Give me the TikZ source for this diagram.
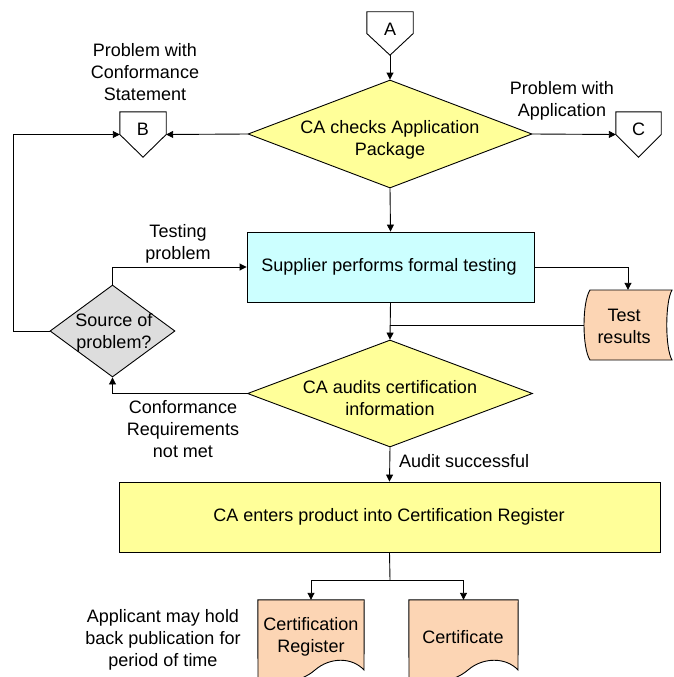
\documentclass[tikz,border=0pt]{standalone}
\usepackage{fontspec}
\setmainfont{Liberation Sans}
\usetikzlibrary{shapes.geometric,arrows.meta,calc}
\definecolor{ylw}{RGB}{255,255,153}
\definecolor{cyn}{RGB}{204,255,255}
\definecolor{gry}{RGB}{221,221,221}
\definecolor{pch}{RGB}{252,213,180}
\tikzset{
  line/.style={draw=black, line width=0.9pt},
  arr/.style={line, -{Triangle[length=7pt,width=7pt]}},
  dia/.style={shape=diamond, draw, line width=0.9pt, inner sep=0pt},
  proc/.style={rectangle, draw, line width=0.9pt, inner sep=0pt},
  txt/.style={align=center, inner sep=0pt},
  conn/.style={rectangle, inner sep=0pt, minimum width=46pt, minimum height=45pt},
  holder/.style={rectangle, inner sep=0pt},
  shapeline/.style={draw, line width=0.9pt, line join=miter},
}
\begin{document}
\begin{tikzpicture}[x=1pt, y=-1pt, font=\fontsize{18}{22}\selectfont]
\useasboundingbox (0,0) rectangle (673,677);
\begin{scope}
\clip (0,0) rectangle (673,677);

% off-page connectors
\node[conn, minimum height=43pt] (A) at (390,33.5) {};
\node[conn] (B) at (143,134.5) {};
\node[conn, minimum width=45pt] (C) at (638.5,134.5) {};
\foreach \n in {A,B,C}{
  \draw[shapeline, fill=white] (\n.north west) -- (\n.north east) -- (\n.east) -- (\n.south) -- (\n.west) -- cycle;
}
\node[txt] at ([yshift=4.5pt]A.center) {A};
\node[txt] at ([yshift=5pt]B.center) {B};
\node[txt] at ([yshift=5pt]C.center) {C};

% decisions
\node[dia, fill=ylw, minimum width=284pt, minimum height=108pt] (d1) at (390,134) {};
\node[txt] at (390,140) {CA checks Application\\Package};
\node[dia, fill=ylw, minimum width=285pt, minimum height=107pt] (d2) at (390,393.5) {};
\node[txt] at (390,398) {CA audits certification\\information};
\node[dia, fill=gry, minimum width=125pt, minimum height=92pt] (src) at (112.5,331) {};
\node[txt] at (114,333) {Source of\\problem?};

% processes
\node[proc, fill=cyn, minimum width=287pt, minimum height=70pt] (sup) at (390.5,267) {};
\node[txt] at (389,267) {Supplier performs formal testing};
\node[proc, fill=ylw, minimum width=541pt, minimum height=70pt] (reg) at (389.5,517) {};
\node[txt] at (389,517) {CA enters product into Certification Register};

% test results (stored data)
\node[holder, minimum width=88pt, minimum height=70pt] (tr) at (628,325) {};
\draw[shapeline, fill=pch] (590,290) -- (672,290) .. controls (665,302) and (665,348) .. (672,360)
  -- (590,360) .. controls (582,348) and (582,302) .. (590,290) -- cycle;
\node[txt] at (624,326) {Test\\results};

% documents
\node[holder, minimum width=106pt, minimum height=77pt] (doc1) at (311,638.5) {};
\draw[shapeline, fill=pch] (doc1.north west) -- (doc1.north east) -- (364,670)
  .. controls (352,657) and (330,657) .. (315,670)
  .. controls (300,683) and (275,686) .. (258,680) -- cycle;
\node[txt] at (311,637) {Certification\\Register};
\node[holder, minimum width=109pt, minimum height=77pt] (doc2) at (463.5,638.5) {};
\draw[shapeline, fill=pch] (doc2.north west) -- (doc2.north east) -- (518,670)
  .. controls (506,657) and (483,657) .. (468,670)
  .. controls (453,683) and (426,686) .. (409,680) -- cycle;
\node[txt] at (463,637) {Certificate};

% connectors
\coordinate (lk) at (13,0);
\coordinate (br) at (390,325);
\coordinate (split) at (390,580);
\draw[arr] (A.south) -- (d1.north);
\draw[arr] (d1.west) -- (B.east);
\draw[arr] (d1.east) -- (C.west);
\draw[arr] (d1.south) -- (sup.north);
\draw[arr] (sup.east) -| (tr.north);
\draw[arr] (sup.south) -- (d2.north);
\draw[line] (br) -- (tr.west);
\draw[arr] (d2.west) -| (src.south);
\draw[arr] (src.north) |- (sup.west);
\draw[arr] (src.west) -- (src.west -| lk) |- (B.west);
\draw[arr] (d2.south) -- (reg.north);
\draw[line] (reg.south) -- (split);
\draw[arr] (split) -| (doc1.north);
\draw[arr] (split) -| (doc2.north);

% labels
\node[txt] at (145,72) {Problem with\\Conformance\\Statement};
\node[txt] at (562,101) {Problem with\\Application};
\node[txt] at (178,244) {Testing\\problem};
\node[txt] at (183,429) {Conformance\\Requirements\\not met};
\node[txt, anchor=west] at (399,461) {Audit successful};
\node[txt] at (163,640) {Applicant may hold\\back publication for\\period of time};
\end{scope}
\end{tikzpicture}
\end{document}
